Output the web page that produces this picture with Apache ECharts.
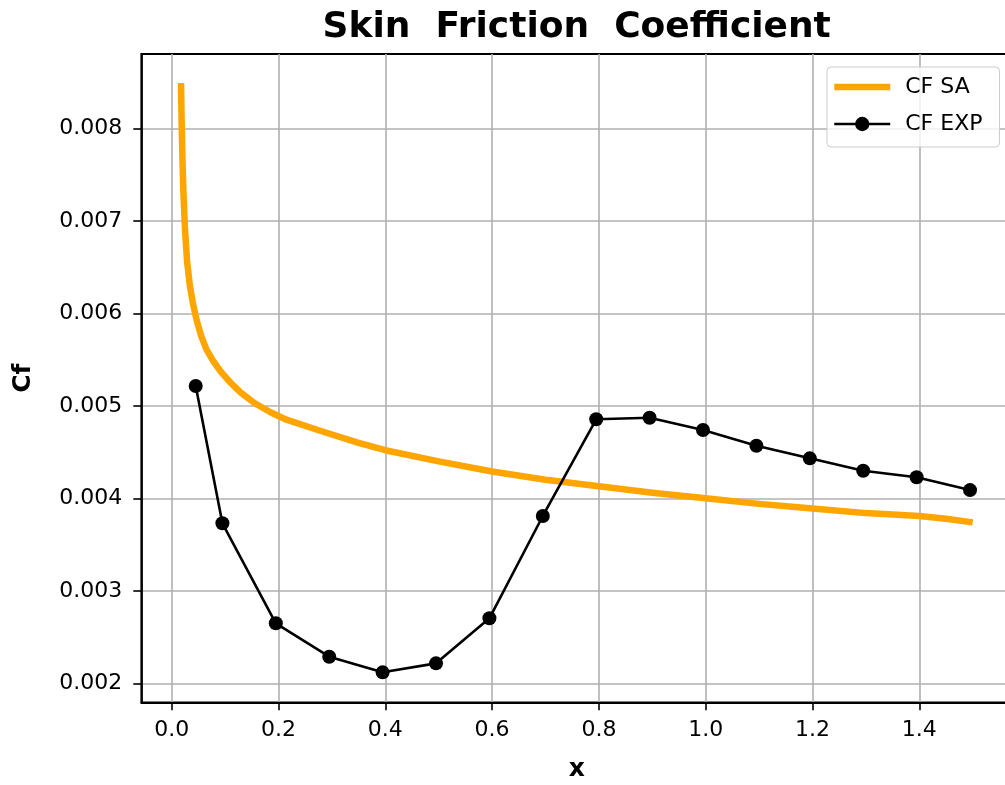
<!DOCTYPE html>
<html><head><meta charset="utf-8">
<script src="https://cdn.jsdelivr.net/npm/echarts@6/dist/echarts.min.js"></script>
<style>html,body{margin:0;padding:0;background:#fff}#c{width:1005px;height:785px}</style>
</head><body><div id="c"></div>
<script>
// CF SA (simulation) curve
const saX = [0.0175, 0.0185, 0.02, 0.022, 0.025, 0.029, 0.034, 0.04, 0.047, 0.055, 0.065, 0.077, 0.092, 0.11, 0.13, 0.155, 0.185, 0.215, 0.278, 0.35, 0.4, 0.5, 0.6, 0.7, 0.8, 0.9, 1.0, 1.1, 1.2, 1.3, 1.4, 1.45, 1.5];
const saY = [0.00849, 0.0081, 0.0077, 0.0073, 0.0069, 0.00655, 0.0063, 0.0061, 0.00592, 0.00576, 0.00561, 0.00549, 0.00537, 0.00525, 0.00514, 0.00503, 0.00493, 0.00485, 0.00473, 0.0046, 0.00452, 0.0044, 0.00429, 0.0042, 0.00413, 0.00406, 0.0040, 0.00394, 0.00389, 0.00384, 0.00381, 0.00378, 0.00374];
// CF EXP (experiment) points
const expX = [0.045, 0.095, 0.195, 0.295, 0.395, 0.495, 0.595, 0.695, 0.795, 0.895, 0.995, 1.095, 1.195, 1.295, 1.395, 1.495];
const expY = [0.005214, 0.00373, 0.002649, 0.002288, 0.002119, 0.002216, 0.002703, 0.003809, 0.004854, 0.004871, 0.004738, 0.004569, 0.004432, 0.004298, 0.004227, 0.004089];
// tick labels
const xTicks = [0.0, 0.2, 0.4, 0.6, 0.8, 1.0, 1.2, 1.4];
const yTicks = [0.002, 0.003, 0.004, 0.005, 0.006, 0.007, 0.008];

const FONT = 'DejaVu Sans';
const chart = echarts.init(document.getElementById('c'), null, {renderer: 'canvas'});
const option = {
  animation: false,
  backgroundColor: '#ffffff',
  textStyle: {fontFamily: FONT},
  title: {
    text: 'Skin  Friction  Coefficient',
    left: 576.7, top: 10, textAlign: 'center', padding: 0,
    textStyle: {fontFamily: FONT, fontSize: 36, fontWeight: 'bold', color: '#000'}
  },
  legend: {
    orient: 'vertical', left: 827, top: 67,
    itemWidth: 56, itemHeight: 18, itemGap: 15,
    padding: [9, 17, 12, 4],
    backgroundColor: 'rgba(255,255,255,0.8)', borderColor: '#cccccc', borderWidth: 1, borderRadius: 4,
    textStyle: {fontFamily: FONT, fontSize: 22, color: '#000', lineHeight: 18, padding: [0, 0, 0, 10]},
    data: [
      {name: 'CF SA', itemStyle: {color: 'rgba(0,0,0,0)', opacity: 0, borderWidth: 0}, lineStyle: {color: '#ffa500', width: 6.5}},
      {name: 'CF EXP', lineStyle: {color: '#000', width: 2.6}}
    ]
  },
  grid: {
    show: true, left: 141.3, top: 54, width: 870.9, height: 648.3,
    outerBoundsMode: 'none', containLabel: false,
    borderColor: '#000', borderWidth: 1.8, backgroundColor: 'transparent'
  },
  xAxis: {
    type: 'value', min: -0.0569, max: 1.574,
    axisLine: {show: true, onZero: false, lineStyle: {color: '#000', width: 1.8}},
    axisTick: {show: true, customValues: xTicks, length: 8, lineStyle: {color: '#000', width: 1.6}},
    axisLabel: {customValues: xTicks, formatter: v => Number(v).toFixed(1), fontFamily: FONT, fontSize: 22, color: '#000', margin: 17},
    splitLine: {show: true, lineStyle: {color: '#b0b0b0', width: 1.6}},
    name: 'x', nameLocation: 'middle', nameGap: 55,
    nameTextStyle: {fontFamily: FONT, fontSize: 25, fontWeight: 'bold', color: '#000'}
  },
  yAxis: {
    type: 'value', min: 0.001795, max: 0.008803,
    axisLine: {show: true, onZero: false, lineStyle: {color: '#000', width: 1.8}},
    axisTick: {show: true, customValues: yTicks, length: 8, lineStyle: {color: '#000', width: 1.6}},
    axisLabel: {customValues: yTicks, formatter: v => Number(v).toFixed(3), fontFamily: FONT, fontSize: 22, color: '#000', margin: 19},
    splitLine: {show: true, lineStyle: {color: '#b0b0b0', width: 1.6}},
    name: 'Cf', nameLocation: 'middle', nameGap: 105, nameRotate: 90,
    nameTextStyle: {fontFamily: FONT, fontSize: 25, fontWeight: 'bold', color: '#000'}
  },
  series: [
    {
      name: 'CF SA', type: 'line',
      data: saX.map((x, i) => [x, saY[i]]),
      symbol: 'circle', showSymbol: false, symbolSize: 0,
      smooth: false,
      lineStyle: {color: '#ffa500', width: 6.5, join: 'round'},
      itemStyle: {color: '#ffa500'},
      z: 2
    },
    {
      name: 'CF EXP', type: 'line',
      data: expX.map((x, i) => [x, expY[i]]),
      symbol: 'circle', symbolSize: 14, showSymbol: true,
      lineStyle: {color: '#000', width: 2.6},
      itemStyle: {color: '#000'},
      z: 3
    }
  ]
};
chart.setOption(option);
</script>
</body></html>
